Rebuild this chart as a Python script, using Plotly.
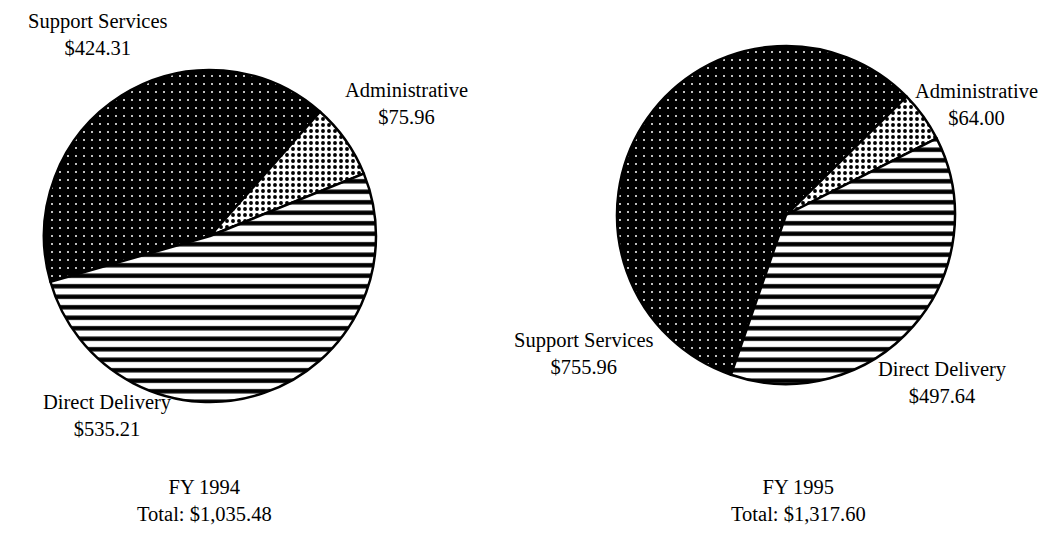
"""
Program expenditure pies, FY 1994 vs FY 1995.
"""
import plotly.graph_objects as go

W, H = 1054, 541

categories = ["Support Services", "Administrative", "Direct Delivery"]
fy1994 = [424.31, 75.96, 535.21]
fy1995 = [755.96, 64.00, 497.64]
years = ["FY 1994", "FY 1995"]

FONT = "Liberation Serif, Times New Roman, serif"

# per-slice fills: dark speckle, dots, horizontal stripes
pattern = dict(
    shape=[".", ".", "-"],
    fgcolor=["#ffffff", "#000000", "#000000"],
    bgcolor=["#000000", "#ffffff", "#ffffff"],
    size=[8, 6, 10.5],
    solidity=[0.05, 0.33, 0.42],
    fillmode="replace",
)


def px(x, y):
    """pixel position -> paper coords"""
    return x / W, 1 - y / H


def pie(values, dom_x, dom_y, rotation):
    return go.Pie(
        labels=categories,
        values=values,
        sort=False,
        direction="clockwise",
        rotation=rotation,
        textinfo="none",
        hoverinfo="label+value",
        showlegend=False,
        domain=dict(x=dom_x, y=dom_y),
        marker=dict(
            colors=["#000000", "#ffffff", "#ffffff"],
            line=dict(color="#000000", width=2.5),
            pattern=pattern,
        ),
    )


fig = go.Figure()
fig.add_trace(pie(fy1994, [36 / W, 368 / W], [1 - 394 / H, 1 - 62 / H], -106))
fig.add_trace(pie(fy1995, [609 / W, 947 / W], [1 - 376 / H, 1 - 38 / H], 199))

# slice labels: (pie index, category index, pixel x, pixel y)
label_pos = [
    (0, 0, 90, 27),
    (0, 1, 398, 95),
    (0, 2, 99, 407),
    (1, 0, 576, 345),
    (1, 1, 968, 96),
    (1, 2, 934, 374),
]
data = [fy1994, fy1995]
for p, c, x, y in label_pos:
    ax, ay = px(x, y)
    fig.add_annotation(
        text=f"{categories[c]}<br>${data[p][c]:,.2f}",
        x=ax, y=ay, xref="paper", yref="paper",
        xanchor="center", yanchor="middle",
        showarrow=False, font=dict(size=20.5, color="#000000", family=FONT),
    )

for vals, yr, cx in zip(data, years, [196, 790]):
    ax, ay = px(cx, 492)
    fig.add_annotation(
        text=f"{yr}<br>Total: ${sum(vals):,.2f}",
        x=ax, y=ay, xref="paper", yref="paper",
        xanchor="center", yanchor="middle",
        showarrow=False, font=dict(size=20.5, color="#000000", family=FONT),
    )

fig.update_layout(
    width=W, height=H,
    margin=dict(l=0, r=0, t=0, b=0),
    paper_bgcolor="#ffffff",
    plot_bgcolor="#ffffff",
    font=dict(family=FONT, color="#000000"),
)

fig.write_html("out.html")
